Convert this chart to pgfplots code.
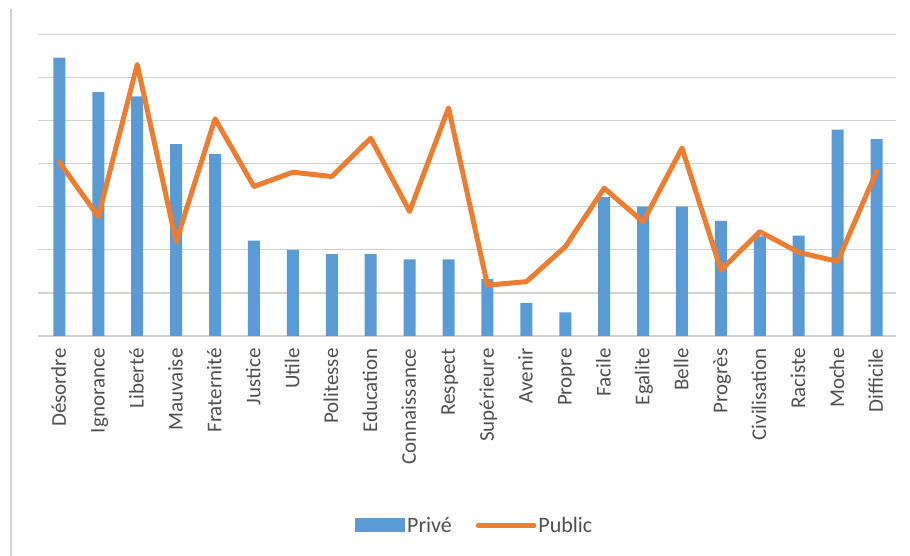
\documentclass[border=0pt]{standalone}
\usepackage{pgfplots}
\pgfplotsset{compat=1.18}
\usepackage{pgfplotstable}
\usepackage{fontspec}
\setmainfont{Carlito}
\definecolor{cblue}{HTML}{5B9BD5}
\definecolor{corange}{HTML}{ED7D31}
\definecolor{cgrid}{HTML}{D6D1CD}
\definecolor{ctext}{HTML}{505050}
\pgfplotstableread{
x prive public
0 6.46 4.03
1 5.66 2.77
2 5.56 6.30
3 4.45 2.19
4 4.22 5.04
5 2.21 3.47
6 2.00 3.80
7 1.90 3.70
8 1.90 4.59
9 1.78 2.89
10 1.78 5.29
11 1.32 1.18
12 0.77 1.26
13 0.55 2.07
14 3.22 3.43
15 3.00 2.65
16 3.00 4.36
17 2.67 1.53
18 2.31 2.42
19 2.33 1.94
20 4.79 1.73
21 4.57 3.82
}\data
\begin{document}
\begin{tikzpicture}
\begin{axis}[
  at={(38pt,220pt)}, anchor=south west,
  scale only axis, width=858pt, height=301.7pt,
  xmin=-0.55, xmax=21.5, ymin=0, ymax=7,
  axis line style={draw=none},
  major tick length=0pt,
  ytick={0,1,...,7}, yticklabels={},
  ymajorgrids, grid style={cgrid, line width=1.3pt},
  xtick=data,
  xticklabels={Désordre,Ignorance,Liberté,Mauvaise,Fraternité,Justice,Utile,Politesse,Education,Connaissance,Respect,Supérieure,Avenir,Propre,Facile,Egalite,Belle,Progrès,Civilisation,Raciste,Moche,Difficile},
  xticklabel style={rotate=90, anchor=mid east, font=\fontsize{21}{24}\selectfont, text=ctext, xshift=-9pt, yshift=-4pt},
  legend columns=2,
  legend style={at={(0.509,-0.628)}, anchor=center, draw=none, fill=none,
    font=\fontsize{22}{24}\selectfont, text=ctext,
    /tikz/every even column/.append style={column sep=22pt}},
]
\addplot[ybar, bar width=12pt, fill=cblue, draw=none,
  legend image code/.code={\fill[cblue] (0pt,-7pt) rectangle (50pt,7pt);}]
  table[x=x, y=prive] {\data};
\addlegendentry{Privé}
\addplot[corange, line width=5pt, line join=round, line cap=round, mark=none,
  legend image code/.code={\draw[corange, line width=4.5pt] (0pt,0pt) -- (56pt,0pt);}]
  table[x=x, y=public] {\data};
\addlegendentry{Public}
\end{axis}
\draw[cgrid, line width=1.5pt] (11pt,0pt) -- (11pt,547pt);
\pgfresetboundingbox
\path[use as bounding box] (0,0) rectangle (910pt,556pt);
\end{tikzpicture}
\end{document}
